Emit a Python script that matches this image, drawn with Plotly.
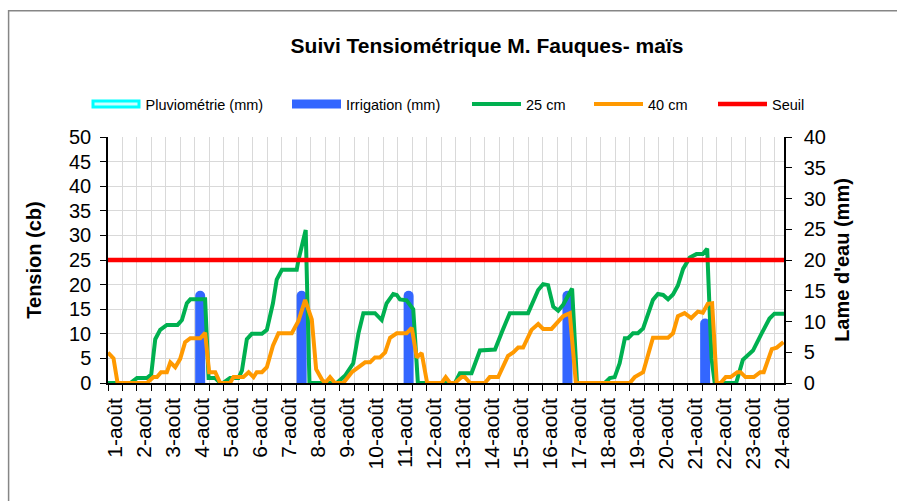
import plotly.graph_objects as go

# ---------------- data ----------------
days = list(range(1, 25))
day_labels = [f"{d}-août" for d in days]

# 25 cm tensiometer (cb) : time in days (1.0 = 1-août 00h)
t_25cm = [0.75, 1.52, 1.75, 2.09, 2.24, 2.38, 2.55, 2.78, 3.15, 3.30, 3.47, 3.59, 4.10, 4.22,
          4.45, 4.62, 4.72, 4.96, 5.25, 5.37, 5.54, 5.71, 6.06, 6.23, 6.44, 6.57, 6.75, 7.26,
          7.32, 7.57, 7.70, 8.64, 8.93, 9.21, 9.39, 9.56, 9.96, 10.19, 10.36, 10.59, 10.71,
          10.82, 11.05, 11.28, 11.44, 12.72, 12.89, 13.29, 13.58, 14.10, 14.35, 14.61, 15.24,
          15.59, 15.76, 15.93, 16.11, 16.28, 16.45, 16.76, 16.93, 17.89, 18.06, 18.23, 18.40,
          18.58, 18.69, 18.86, 19.03, 19.21, 19.55, 19.72, 19.90, 20.07, 20.24, 20.41, 20.59,
          20.82, 21.05, 21.27, 21.42, 21.57, 21.68, 22.42, 22.65, 23.00, 23.29, 23.57, 23.74,
          24.07]
v_25cm = [0, 0, 1, 1, 1.7, 8.9, 10.8, 11.8, 11.8, 12.8, 16.2, 17, 17, 1,
          1, 0, 0, 1, 1, 2.5, 8.9, 10, 10, 10.8, 16.2, 21, 23, 23,
          25, 31.1, 0, 0, 1.5, 4, 10.1, 14.2, 14.2, 12.8, 16.2, 18.1, 17.9,
          17, 16.8, 15, 0, 0, 2, 2, 6.6, 6.8, 10.5, 14.2, 14.2,
          18.9, 20.1, 19.9, 15.5, 14.7, 15.9, 19.2, 0, 0, 1, 1.2, 4,
          9.1, 9.1, 10.1, 10.1, 11.1, 16.9, 18.1, 17.9, 17, 18, 19.8, 23.2,
          25.5, 26.2, 26.2, 27.3, 5, 0, 0, 4.7, 6.6, 10, 13.1, 14.1,
          14.1]

# 40 cm tensiometer (cb)
t_40cm = [0.75, 0.94, 1.08, 2.09, 2.32, 2.44, 2.58, 2.78, 2.90, 3.07, 3.24, 3.41, 3.59, 3.93,
          4.10, 4.24, 4.45, 4.62, 4.96, 5.08, 5.42, 5.60, 5.77, 5.88, 6.06, 6.23, 6.44, 6.63,
          7.09, 7.32, 7.55, 7.78, 7.93, 8.12, 8.24, 8.41, 8.58, 8.87, 9.16, 9.62, 9.79, 9.96,
          10.13, 10.31, 10.48, 10.71, 11.05, 11.23, 11.40, 11.57, 11.76, 12.26, 12.40, 12.55,
          12.72, 12.95, 13.06, 13.24, 13.75, 13.92, 14.21, 14.55, 14.73, 14.90, 15.07, 15.36,
          15.59, 15.76, 16.05, 16.22, 16.45, 16.68, 16.89, 18.75, 18.92, 19.21, 19.55, 20.07,
          20.24, 20.41, 20.64, 20.87, 21.10, 21.27, 21.44, 21.59, 21.75, 21.88, 22.06, 22.23,
          22.46, 22.57, 22.74, 23.03, 23.25, 23.37, 23.65, 23.82, 24.05]
v_40cm = [6.2, 5.0, 0, 0, 1.2, 1.2, 2.2, 2.2, 4.2, 3.2, 4.9, 8.3, 9.1, 9.1,
          10.2, 2.2, 2.2, 0, 0, 1.2, 1.2, 2.2, 1.2, 2.2, 2.2, 3.2, 7.6, 10.1,
          10.1, 12.6, 16.9, 12.9, 2.8, 0.8, 0, 1.2, 0, 0, 2.2, 4.2, 4.2, 5.2,
          5.2, 6.2, 9.2, 10.1, 10.1, 11.2, 5.2, 6.1, 0, 0, 1.2, 0,
          0, 1.2, 1.2, 0, 0, 1.2, 1.2, 5.5, 6.2, 7.2, 7.2, 10.8,
          12, 11, 11, 12.2, 13.6, 14.2, 0, 0, 1.2, 2.2, 9.2, 9.2,
          10.1, 13.6, 14.2, 13.2, 14.5, 14.3, 16.1, 16.2, 0, 0, 1.2, 1.2,
          2.2, 2.2, 1.2, 1.2, 2.2, 2.2, 6.9, 7.2, 8.3]

# Irrigation (mm) - right axis
t_irrigation = [3.93, 7.43, 11.12, 16.60, 21.35]
irrigation_mm = [15, 15, 15, 15, 10.5]

# Pluviométrie (mm) - none recorded over the period
t_pluvio = []
pluvio_mm = []

seuil_cb = 25
x_range = [0.75, 24.07]

# ---------------- style ----------------
FONT = "Liberation Sans, Arial, sans-serif"
GREEN = "#00B050"
ORANGE = "#FF9900"
RED = "#FF0000"
BLUE = "#3366FF"
CYAN = "#00FFFF"
GRID = "#D9D9D9"

fig = go.Figure()

# bars on primary (right-hand, mm) axis -> drawn below the lines
fig.add_trace(go.Bar(x=t_pluvio, y=pluvio_mm, name="Pluviométrie (mm)", showlegend=False,
                     marker=dict(color="#CCFFFF", line=dict(color=CYAN, width=2)),
                     width=0.345, yaxis="y"))
fig.add_trace(go.Bar(x=t_irrigation, y=irrigation_mm, name="Irrigation (mm)", showlegend=False,
                     marker=dict(color=BLUE, line=dict(width=0), cornerradius=5),
                     width=0.345, yaxis="y"))

# lines on the left (Tension) axis
fig.add_trace(go.Scatter(x=t_25cm, y=v_25cm, mode="lines", name="25 cm",
                         line=dict(color=GREEN, width=4), yaxis="y2", legend="legend3"))
fig.add_trace(go.Scatter(x=t_40cm, y=v_40cm, mode="lines", name="40 cm",
                         line=dict(color=ORANGE, width=4), yaxis="y2", legend="legend4"))
fig.add_trace(go.Scatter(x=x_range, y=[seuil_cb, seuil_cb], mode="lines", name="Seuil",
                         line=dict(color=RED, width=4.5), yaxis="y2", legend="legend5"))

# legend entries for the bar series (wide Excel-like symbols)
fig.add_trace(go.Scatter(x=[None], y=[None], mode="lines", name="Pluviométrie (mm)",
                         line=dict(color=CYAN, width=9), yaxis="y2", legend="legend"))
fig.add_trace(go.Scatter(x=[None], y=[None], mode="lines", name=" ",
                         line=dict(color="#CCFFFF", width=3), yaxis="y2", legend="legend6"))
fig.add_trace(go.Scatter(x=[None], y=[None], mode="lines", name="Irrigation (mm)",
                         line=dict(color=BLUE, width=9), yaxis="y2", legend="legend2"))

PL, PR, PT, PB = 108, 784, 137, 383
PW, PH = PR - PL, PB - PT


def px_x(p):
    return (p - PL) / PW


def px_y(p):
    return (PB - p) / PH


leg_y = px_y(104)
leg_common = dict(orientation="h", yanchor="middle", xanchor="left", y=leg_y,
                  bgcolor="rgba(0,0,0,0)", font=dict(family=FONT, size=14.5, color="#000"),
                  itemwidth=49, itemclick=False, itemdoubleclick=False)

fig.update_layout(
    width=897, height=501,
    margin=dict(l=PL, r=897 - PR, t=PT, b=501 - PB),
    paper_bgcolor="white", plot_bgcolor="white",
    font=dict(family=FONT, color="#000"),
    barmode="overlay",
    title=dict(text="<b>Suivi Tensiométrique M. Fauques- maïs</b>",
               font=dict(family=FONT, size=21, color="#000"),
               x=px_x(487), xref="paper", xanchor="center",
               y=1 - 46 / 501, yref="container", yanchor="middle"),
    xaxis=dict(range=x_range, tickmode="array", tickvals=days, ticktext=day_labels,
               tickangle=-90, ticks="", showgrid=False, zeroline=False,
               showline=True, linecolor="#000", linewidth=1.5, ticklabelstandoff=5,
               tickfont=dict(family=FONT, size=21, color="#000"),
               minor=dict(tickmode="linear", tick0=1.25, dtick=0.5, showgrid=True,
                          gridcolor=GRID, gridwidth=1.3, ticks="outside", ticklen=6,
                          tickcolor="#000", tickwidth=1)),
    yaxis=dict(range=[0, 40], dtick=5, side="right", showgrid=False, zeroline=False,
               showline=True, linecolor="#000", linewidth=1.5,
               ticks="outside", ticklen=6, tickcolor="#000", ticklabelstandoff=8,
               tickfont=dict(family=FONT, size=20, color="#000"),
               title=dict(text="<b>Lame d'eau (mm)</b>",
                          font=dict(family=FONT, size=20, color="#000"), standoff=10)),
    yaxis2=dict(range=[0, 50], dtick=5, side="left", overlaying="y", showgrid=True,
                gridcolor=GRID, gridwidth=1.3, zeroline=False,
                showline=True, linecolor="#000", linewidth=1.5,
                ticks="outside", ticklen=6, tickcolor="#000", ticklabelstandoff=5,
                tickfont=dict(family=FONT, size=20, color="#000"),
                title=dict(text="<b>Tension (cb)</b>",
                           font=dict(family=FONT, size=20, color="#000"), standoff=22)),
    legend=dict(leg_common, x=px_x(86.5)),
    legend6=dict(leg_common, x=px_x(89.5), itemwidth=43),
    legend2=dict(leg_common, x=px_x(287)),
    legend3=dict(leg_common, x=px_x(467)),
    legend4=dict(leg_common, x=px_x(589)),
    legend5=dict(leg_common, x=px_x(713)),
    shapes=[dict(type="rect", xref="paper", yref="paper",
                 x0=px_x(8.6), x1=px_x(905), y0=px_y(510), y1=px_y(10.7),
                 line=dict(color="#868686", width=1.5), fillcolor="rgba(0,0,0,0)",
                 layer="below")],
)

fig.write_html("out.html",
               config={"displayModeBar": False},
               post_script="document.body.style.margin='0';document.body.style.overflow='hidden';")
